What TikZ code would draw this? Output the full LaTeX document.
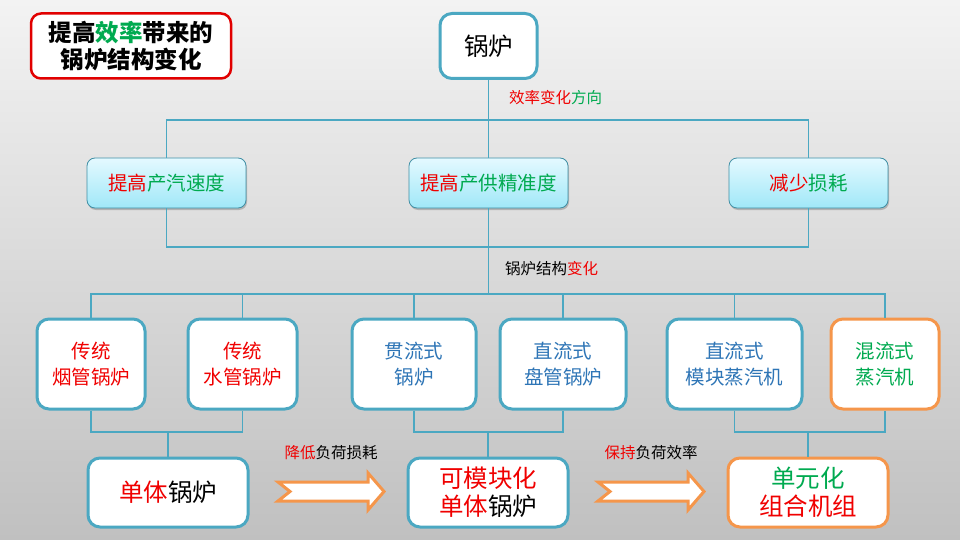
\documentclass[tikz,border=0pt]{standalone}
\usepackage{fontspec}
\setmainfont{Noto Sans CJK SC}
\usepackage{xcolor}
\usepackage{tikz}
\usetikzlibrary{shadows}
\definecolor{AzulBorde}{RGB}{75,168,194}
\definecolor{RojoTexto}{RGB}{240,0,0}
\definecolor{RojoBorde}{RGB}{225,0,0}
\definecolor{VerdeTexto}{RGB}{0,170,80}
\definecolor{AzulTexto}{RGB}{46,117,182}
\definecolor{NaranjaBorde}{RGB}{245,150,75}
\definecolor{CianClaro}{RGB}{228,249,255}
\definecolor{CianOscuro}{RGB}{160,232,248}
\definecolor{GrisFondoA}{RGB}{243,243,243}
\definecolor{GrisFondoB}{RGB}{192,192,192}

\begin{document}
\begin{tikzpicture}[x=1pt,y=-1pt,
  caja/.style={draw=AzulBorde,line width=3pt,fill=white,rounded corners=12pt,
    inner sep=0pt,align=center},
  naranja/.style={caja,draw=NaranjaBorde},
  tipo/.style={minimum width=#1,minimum height=90pt,font=\fontsize{19.5}{26}\selectfont},
  grande/.style={minimum width=160pt,minimum height=69pt,font=\fontsize{24.5}{28}\selectfont},
  fila/.style={draw=AzulBorde!85!black,line width=0.8pt,rounded corners=8pt,
    top color=CianClaro,bottom color=CianOscuro,inner sep=0pt,
    minimum width=159pt,minimum height=50pt,font=\fontsize{19.5}{24}\selectfont,
    drop shadow={shadow xshift=1pt,shadow yshift=-2pt,opacity=.3,fill=black!70}},
  etiqueta/.style={inner sep=0pt,font=\fontsize{15.5}{18}\selectfont},
  linea/.style={draw=AzulBorde,line width=1.2pt},
  flecha/.style={draw=NaranjaBorde,line width=3pt,fill=white,line join=miter}]
  % fondo
  \shade[top color=GrisFondoA,bottom color=GrisFondoB] (0,0) rectangle (960,540);
  % titulo
  \node[draw=RojoBorde,line width=2.5pt,fill=white,rounded corners=10pt,inner sep=0pt,
    minimum width=200pt,minimum height=65pt,align=center,
    font=\bfseries\fontsize{23.5}{27}\selectfont] (titulo) at (131,46)
    {提高{\color{VerdeTexto}效率}带来的\\锅炉结构变化};
  \node[caja,minimum width=97pt,minimum height=65pt,font=\fontsize{24.5}{28}\selectfont]
    (guolu) at (488.5,46) {锅炉};
  % direcciones de la eficiencia
  \node[fila] (sudu) at (166.5,183) {{\color{RojoTexto}提高}{\color{VerdeTexto}产汽速度}};
  \node[fila] (jingdu) at (488.5,183) {{\color{RojoTexto}提高}{\color{VerdeTexto}产供精准度}};
  \node[fila] (sunhao) at (808.5,183) {{\color{RojoTexto}减少}{\color{VerdeTexto}损耗}};
  % tipos de caldera
  \node[caja,tipo=108pt,text=RojoTexto] (yanguan) at (91,364) {传统\\烟管锅炉};
  \node[caja,tipo=109pt,text=RojoTexto] (shuiguan) at (242.5,364) {传统\\水管锅炉};
  \node[caja,tipo=124pt,text=AzulTexto] (guanliu) at (414,364) {贯流式\\锅炉};
  \node[caja,tipo=126pt,text=AzulTexto] (panguan) at (563,364) {直流式\\盘管锅炉};
  \node[caja,tipo=135pt,text=AzulTexto] (mokuai) at (734.5,364) {直流式\\模块蒸汽机};
  \node[naranja,tipo=108pt,text=VerdeTexto] (hunliu) at (885,364) {混流式\\蒸汽机};
  % resultado
  \node[caja,grande] (danti) at (168,492.5) {{\color{RojoTexto}单体}锅炉};
  \node[caja,grande] (kemokuai) at (488,492.5)
    {{\color{RojoTexto}可模块化}\\{\color{RojoTexto}单体}锅炉};
  \node[naranja,grande] (zuhe) at (808,492.5)
    {{\color{VerdeTexto}单元化}\\{\color{RojoTexto}组合机组}};
  % lineas
  \coordinate (busA) at (0,120);
  \coordinate (busB) at (0,247);
  \coordinate (busC) at (0,294);
  \coordinate (busD) at (0,432);
  \draw[linea] (guolu.south) -- (guolu |- busA);
  \draw[linea] (sudu.north) -- (sudu |- busA) -- (sunhao |- busA) -- (sunhao.north);
  \draw[linea] (jingdu.north) -- (jingdu |- busA);
  \draw[linea] (sudu.south) -- (sudu |- busB) -- (sunhao |- busB) -- (sunhao.south);
  \draw[linea] (jingdu.south) -- (jingdu |- busC);
  \draw[linea] (yanguan.north) -- (yanguan |- busC) -- (hunliu |- busC) -- (hunliu.north);
  \foreach \n in {shuiguan,guanliu,panguan,mokuai}
    \draw[linea] (\n.north) -- (\n |- busC);
  \draw[linea] (yanguan.south) -- (yanguan |- busD) -- (shuiguan |- busD) -- (shuiguan.south);
  \draw[linea] (guanliu.south) -- (guanliu |- busD) -- (panguan |- busD) -- (panguan.south);
  \draw[linea] (mokuai.south) -- (mokuai |- busD) -- (hunliu |- busD) -- (hunliu.south);
  \draw[linea] (danti.north) -- (danti |- busD);
  \draw[linea] (kemokuai.north) -- (kemokuai |- busD);
  \draw[linea] (zuhe.north) -- (zuhe |- busD);
  % etiquetas
  \node[etiqueta,anchor=west] (direccion) at (509,98)
    {{\color{RojoTexto}效率变化}{\color{VerdeTexto}方向}};
  \node[etiqueta,anchor=west] (cambio) at (505,269) {锅炉结构{\color{RojoTexto}变化}};
  \node[etiqueta] (reducir) at (331,453) {{\color{RojoTexto}降低}负荷损耗};
  \node[etiqueta] (mantener) at (651,453) {{\color{RojoTexto}保持}负荷效率};
  % flechas
  \coordinate (flA) at (278,482);
  \coordinate (flB) at (598,482);
  \foreach \p in {flA,flB}
    \draw[flecha] (\p) -- ++(90,0) -- ++(0,-9) -- ++(16,18.5) -- ++(-16,18.5)
      -- ++(0,-9) -- ++(-90,0) -- ++(12,-9.5) -- cycle;
\end{tikzpicture}
\end{document}
